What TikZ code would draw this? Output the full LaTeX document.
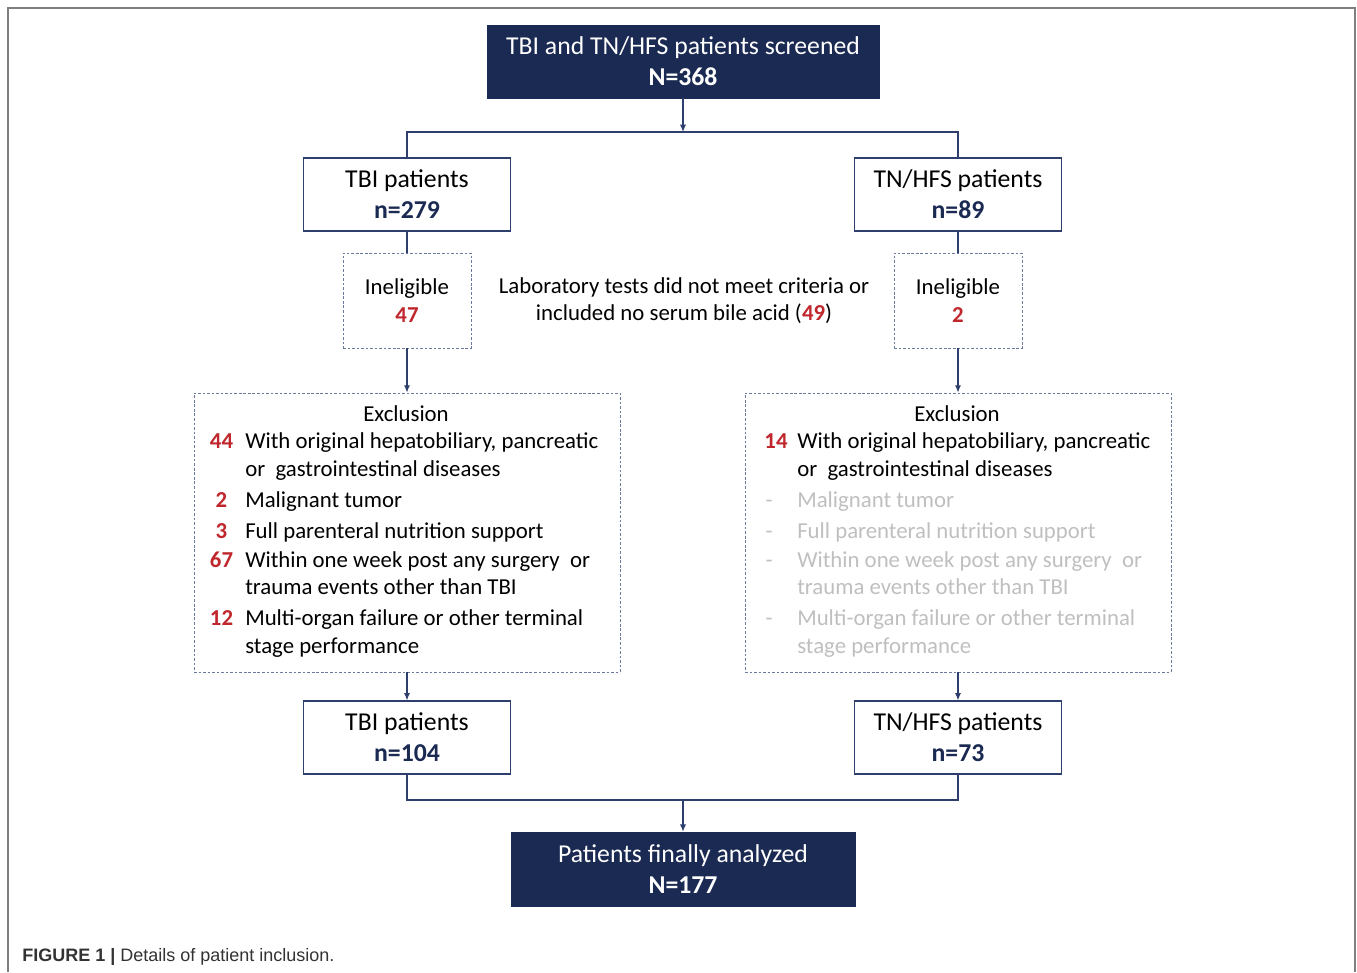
\documentclass[tikz,border=0pt]{standalone}
\usepackage{fontspec}
\setmainfont{Carlito}
\newfontfamily\capfont{Liberation Sans}
\usetikzlibrary{arrows.meta}
\definecolor{navy}{HTML}{1B2A52}
\definecolor{connc}{HTML}{2E3F6E}
\definecolor{dashc}{HTML}{6A7AA0}
\definecolor{numred}{HTML}{C0272D}
\definecolor{fadeg}{HTML}{BFBFBF}
\definecolor{framec}{HTML}{7F7F7F}
\definecolor{capc}{HTML}{333333}
\newcommand\bigf{\fontsize{19.3pt}{23.25pt}\selectfont}
\newcommand\smf{\fontsize{17.1pt}{20.4pt}\selectfont}
\newcommand\rn[1]{{\bfseries\color{numred}#1}}
\newcommand\nn[1]{{\bfseries\color{navy}#1}}
\begin{document}
\begin{tikzpicture}[x=0.75pt,y=-0.75pt,
  darkbox/.style={fill=navy, draw=navy, text=white, align=center, inner sep=0pt, font=\bigf},
  whitebox/.style={draw=connc, line width=0.9pt, fill=white, align=center, inner sep=0pt, font=\bigf, minimum width=155.5pt, minimum height=54.75pt},
  inelbox/.style={draw=dashc, dash pattern=on 2pt off 1.4pt, line width=0.6pt, align=center, font=\smf, minimum width=96pt, minimum height=71.25pt, inner sep=0pt},
  exbox/.style={draw=dashc, dash pattern=on 2pt off 1.4pt, line width=0.6pt, minimum width=319.5pt, minimum height=209.25pt, inner sep=0pt},
  txt/.style={font=\smf, anchor=base, inner sep=0pt},
  txtw/.style={font=\smf, anchor=base west, inner sep=0pt},
  conn/.style={draw=connc, line width=0.9pt},
  arr/.style={conn, -{Latex[length=5.5pt,width=4.6pt]}}]
\useasboundingbox (0,0) rectangle (1357,972);
% frame
\draw[framec, line width=1.5pt] (8,972) -- (8,8) -- (1355,8) -- (1355,972);

% nodes
\node[darkbox, minimum width=294pt, minimum height=54.75pt] (top) at (683,61.5)
  {TBI and TN/HFS patients screened\\\textbf{N=368}};
\node[whitebox] (tbiA) at (407,194.5) {TBI patients\\\nn{n=279}};
\node[whitebox] (tnA) at (958,194.5) {TN/HFS patients\\\nn{n=89}};
\node[inelbox] (inelL) at (407,300.5) {Ineligible\\\rn{47}};
\node[inelbox] (inelR) at (958,300.5) {Ineligible\\\rn{2}};
\node[font=\smf, align=center, inner sep=0pt] (lab) at (684,301)
  {Laboratory tests did not meet criteria or\\included no serum bile acid (\rn{49})};
\node[exbox] (exL) at (407,532.5) {};
\node[exbox] (exR) at (958,532.5) {};
\node[whitebox] (tbiB) at (407,737.5) {TBI patients\\\nn{n=104}};
\node[whitebox] (tnB) at (958,737.5) {TN/HFS patients\\\nn{n=73}};
\node[darkbox, minimum width=258pt, minimum height=55.5pt] (final) at (683,869)
  {Patients finally analyzed\\\textbf{N=177}};

% left exclusion text
\node[txt] (exLh) at (406,421) {Exclusion};
\node[txt] (exLn1) at (221.5,448) {\rn{44}};
\node[txtw] (exLt1a) at (245,448) {With original hepatobiliary, pancreatic};
\node[txtw] (exLt1b) at (245,476) {or\ \ gastrointestinal diseases};
\node[txt] (exLn2) at (221.5,507) {\rn{2}};
\node[txtw] (exLt2) at (245,507) {Malignant tumor};
\node[txt] (exLn3) at (221.5,538) {\rn{3}};
\node[txtw] (exLt3) at (245,538) {Full parenteral nutrition support};
\node[txt] (exLn4) at (221.5,567) {\rn{67}};
\node[txtw] (exLt4a) at (245,567) {Within one week post any surgery\ \ or};
\node[txtw] (exLt4b) at (245,594) {trauma events other than TBI};
\node[txt] (exLn5) at (221.5,625) {\rn{12}};
\node[txtw] (exLt5a) at (245,625) {Multi-organ failure or other terminal};
\node[txtw] (exLt5b) at (245,653) {stage performance};

% right exclusion text
\node[txt] (exRh) at (957,421) {Exclusion};
\node[txt] (exRn1) at (776,448) {\rn{14}};
\node[txtw] (exRt1a) at (797,448) {With original hepatobiliary, pancreatic};
\node[txtw] (exRt1b) at (797,476) {or\ \ gastrointestinal diseases};
\node[txt, text=fadeg] (exRn2) at (769,507) {-};
\node[txtw, text=fadeg] (exRt2) at (797,507) {Malignant tumor};
\node[txt, text=fadeg] (exRn3) at (769,538) {-};
\node[txtw, text=fadeg] (exRt3) at (797,538) {Full parenteral nutrition support};
\node[txt, text=fadeg] (exRn4) at (769,567) {-};
\node[txtw, text=fadeg] (exRt4a) at (797,567) {Within one week post any surgery\ \ or};
\node[txtw, text=fadeg] (exRt4b) at (797,594) {trauma events other than TBI};
\node[txt, text=fadeg] (exRn5) at (769,625) {-};
\node[txtw, text=fadeg] (exRt5a) at (797,625) {Multi-organ failure or other terminal};
\node[txtw, text=fadeg] (exRt5b) at (797,653) {stage performance};

% caption
\node[anchor=base west, inner sep=0pt, text=capc, font=\capfont\fontsize{13.5pt}{16pt}\selectfont] (cap) at (22,961)
  {\textbf{FIGURE 1 |} Details of patient inclusion.};

% connectors
\coordinate (j1) at (683,132);
\coordinate (j2) at (683,800);
\draw[arr] (top.south) -- (j1);
\draw[conn] (tbiA.north) -- (tbiA.north |- j1) -- (tnA.north |- j1) -- (tnA.north);
\draw[conn] (tbiA.south) -- (inelL.north);
\draw[conn] (tnA.south) -- (inelR.north);
\draw[arr] (inelL.south) -- (exL.north);
\draw[arr] (inelR.south) -- (exR.north);
\draw[arr] (exL.south) -- (tbiB.north);
\draw[arr] (exR.south) -- (tnB.north);
\draw[conn] (tbiB.south) -- (tbiB.south |- j2) -- (tnB.south |- j2) -- (tnB.south);
\draw[arr] (j2) -- (final.north);
\end{tikzpicture}
\end{document}
